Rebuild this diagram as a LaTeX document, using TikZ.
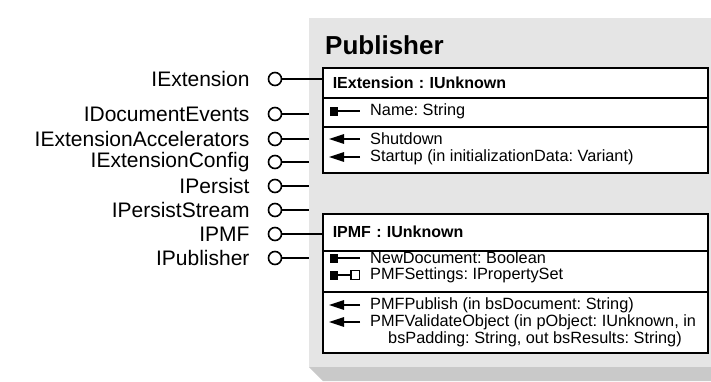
\documentclass[tikz,border=0pt]{standalone}
\usepackage{fontspec}
\setmainfont{Liberation Sans}
\usepackage{xcolor}
\usetikzlibrary{positioning, arrows.meta, calc}

\definecolor{panelgray}{HTML}{E5E5E5}
\definecolor{shadegray}{HTML}{C9C9C9}
\frenchspacing

\begin{document}
\begin{tikzpicture}[
    x=1pt, y=-1pt,
    panelbox/.style={
        rectangle,
        fill=panelgray,
        inner sep=0pt,
        anchor=north west
    },
    partbox/.style={
        rectangle,
        draw=black,
        fill=white,
        line width=1.5pt,
        anchor=north west,
        minimum width=385pt,
        inner sep=0pt
    },
    headbox/.style={
        partbox,
        text width=365pt,
        inner xsep=10pt,
        align=left,
        font=\bfseries\fontsize{16}{19}\selectfont
    },
    lolli/.style={
        circle,
        draw=black,
        fill=white,
        line width=1.6pt,
        minimum size=13pt,
        inner sep=0pt
    },
    ifacelabel/.style={font=\fontsize{21}{24}\selectfont, inner sep=0pt},
    member/.style={anchor=west, inner sep=0pt, font=\fontsize{16.3}{19}\selectfont},
    lolline/.style={line width=1.5pt, draw=black},
    markline/.style={line width=1.5pt, draw=black},
    opmark/.style={-{Triangle[length=15pt,width=9.5pt]}, line width=1.5pt, draw=black}
]
\useasboundingbox (0,0) rectangle (711,381);

% component body
\node[panelbox, minimum width=402pt, minimum height=349pt] (panel) at (309,18) {};
\fill[shadegray] (309,367) -- (711,367) -- (711,381) -- (323,381) -- cycle;

\node[anchor=west, inner sep=0pt, font=\bfseries\fontsize{26}{30}\selectfont] (title) at (325,45) {Publisher};

% IExtension interface
\node[headbox, minimum height=30pt] (exthead) at (322,67) {IExtension : IUnknown};
\node[partbox, minimum height=29pt] (extattr) at (322,97) {};
\node[partbox, minimum height=46pt] (extops) at (322,126) {};

\node[member] (extname) at (370,111) {Name: String};
\node[member] (extshut) at (370,139) {Shutdown};
\node[member] (extstart) at (370,157) {Startup (in initializationData: Variant)};

% IPMF interface
\node[headbox, minimum height=37pt] (pmfhead) at (322,213) {IPMF : IUnknown};
\node[partbox, minimum height=41pt] (pmfattr) at (322,250) {};
\node[partbox, minimum height=61pt] (pmfops) at (322,291) {};

\node[member] (pmfnew) at (370,258) {NewDocument: Boolean};
\node[member] (pmfset) at (370,275) {PMFSettings: IPropertySet};
\node[member] (pmfpub) at (370,305) {PMFPublish (in bsDocument: String)};
\node[member] (pmfval) at (370,322) {PMFValidateObject (in pObject: IUnknown, in};
\node[member] (pmfvalb) at (388,339) {bsPadding: String, out bsResults: String)};

% member markers
\foreach \yy in {111,258,275} {
    \fill (329.5,\yy-4.5) rectangle (338,\yy+4.5);
}
\foreach \yy in {111,258} {
    \draw[markline] (337,\yy) -- (360,\yy);
}
\draw[markline] (337,275) -- (351,275);
\draw[line width=1.4pt, fill=white] (351,270.5) rectangle (359.5,279.5);
\foreach \yy in {139,157,305,322} {
    \draw[opmark] (360,\yy) -- (329,\yy);
}

% exposed interfaces
\foreach \name/\lbl/\yy/\tgt in {
    ext/IExtension/79/exthead,
    docevents/IDocumentEvents/114/panel,
    extaccel/IExtensionAccelerators/139/panel,
    extconfig/IExtensionConfig/162/panel,
    persist/IPersist/186/panel,
    persiststream/IPersistStream/210/panel,
    pmf/IPMF/234/pmfhead,
    publisher/IPublisher/258/panel} {
    \node[lolli] (\name) at (275,\yy) {};
    \node[ifacelabel, left=18pt of \name] (\name label) {\lbl};
    \draw[lolline] (\name.east) -- (\name.east -| \tgt.west);
}

\end{tikzpicture}
\end{document}
